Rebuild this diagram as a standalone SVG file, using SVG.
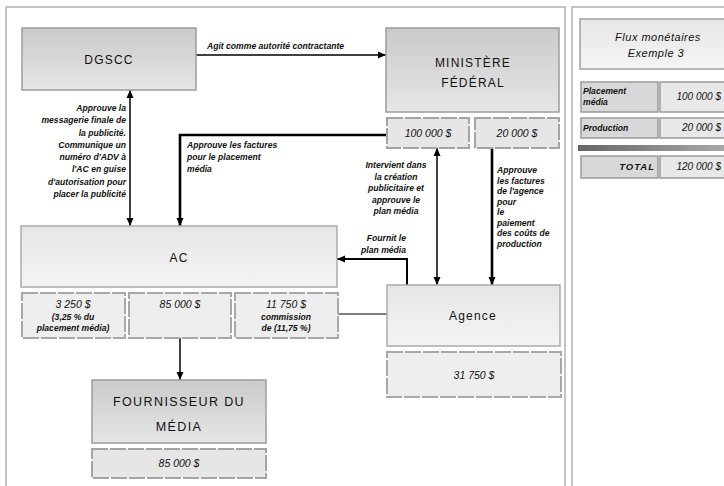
<svg xmlns="http://www.w3.org/2000/svg" width="724" height="486" viewBox="0 0 724 486">
<defs>
<linearGradient id="gDark" x1="0" y1="0" x2="0" y2="1"><stop offset="0" stop-color="#cacaca"/><stop offset="1" stop-color="#e6e6e6"/></linearGradient>
<linearGradient id="gLight" x1="0" y1="0" x2="0" y2="1"><stop offset="0" stop-color="#e6e6e6"/><stop offset="1" stop-color="#f4f4f4"/></linearGradient>
<linearGradient id="gBar" x1="0" y1="0" x2="1" y2="0"><stop offset="0" stop-color="#666"/><stop offset="1" stop-color="#aaa"/></linearGradient>
<marker id="ah" viewBox="0 0 8 8" refX="8" refY="4" markerWidth="8" markerHeight="8" markerUnits="userSpaceOnUse" orient="auto-start-reverse"><path d="M0,0.5 L8,4 L0,7.5 Z" fill="#000"/></marker>
<style>
.frame{fill:none;stroke:#b0b0b0;stroke-width:1.5}
.nd{fill:url(#gDark);stroke:#9c9c9c;stroke-width:1.5}
.nl{fill:url(#gLight);stroke:#aaa;stroke-width:1.5}
.val{fill:#e6e6e6;stroke:#a4a4a4;stroke-width:2;stroke-dasharray:16 2}
.valL{fill:#eeeeee;stroke:#a8a8a8;stroke-width:2;stroke-dasharray:16 2}
.cell{fill:#d8d8d8;stroke:#9a9a9a;stroke-width:1.5}
.cellv{fill:#e8e8e8;stroke:#9a9a9a;stroke-width:1.5}
text{font-family:"Liberation Sans",Arial,sans-serif;fill:#111}
.t{font-size:12px;letter-spacing:1.2px;text-anchor:middle}
.v{font-size:10.5px;font-style:italic;text-anchor:middle}
.s{font-size:8.6px;font-style:italic;font-weight:bold}
.c{stroke:#000;fill:none;stroke-width:1.5}
.thick{stroke-width:2.6}
.rv{font-size:10px;font-style:italic;text-anchor:end}
</style>
</defs>

<rect class="frame" x="6" y="7" width="559" height="495"/>
<rect class="frame" x="572" y="7" width="170" height="495"/>

<g id="connectors">
<path class="c" d="M196,55 H386" marker-end="url(#ah)"/>
<path class="c" d="M130,90 V226" marker-start="url(#ah)" marker-end="url(#ah)"/>
<path class="c thick" d="M386,135 H180 V226" marker-end="url(#ah)"/>
<path class="c" d="M437,148 V285" marker-start="url(#ah)" marker-end="url(#ah)"/>
<path class="c thick" d="M492,148 V285" marker-end="url(#ah)"/>
<path class="c" style="stroke-width:2" d="M407,285 V259 H337" marker-end="url(#ah)"/>
<path class="c" style="stroke-width:1.2" d="M338,314 H387"/>
<path class="c" d="M180,338 V380" marker-end="url(#ah)"/>
<text class="s" x="207" y="49">Agit comme autorité contractante</text>
<g class="s" text-anchor="end">
<text x="126" y="111">Approuve la</text>
<text x="126" y="123">messagerie finale de</text>
<text x="126" y="136">la publicité.</text>
<text x="126" y="148">Communique un</text>
<text x="126" y="160">numéro d'ADV à</text>
<text x="126" y="172">l'AC en guise</text>
<text x="126" y="185">d'autorisation pour</text>
<text x="126" y="197">placer la publicité</text>
</g>
<g class="s">
<text x="187" y="148">Approuve les factures</text>
<text x="187" y="160">pour le placement</text>
<text x="187" y="172">média</text>
</g>
<g class="s" text-anchor="middle">
<text x="396" y="168">Intervient dans</text>
<text x="396" y="180">la création</text>
<text x="396" y="191">publicitaire et</text>
<text x="396" y="203">approuve le</text>
<text x="396" y="214">plan média</text>
</g>
<g class="s">
<text x="497" y="173">Approuve</text>
<text x="497" y="183.5">les factures</text>
<text x="497" y="194">de l'agence</text>
<text x="497" y="204.5">pour</text>
<text x="497" y="215">le</text>
<text x="497" y="225.5">paiement</text>
<text x="497" y="236">des coûts de</text>
<text x="497" y="246.5">production</text>
</g>
<g class="s" text-anchor="end">
<text x="406" y="241">Fournit le</text>
<text x="406" y="253">plan média</text>
</g>
</g>

<g id="dgscc">
<rect class="nd" x="22" y="28" width="174" height="62"/>
<text class="t" x="109" y="64">DGSCC</text>
</g>

<g id="ministere">
<rect class="nd" x="386" y="28" width="173" height="84"/>
<text class="t" x="473" y="67">MINISTÈRE</text>
<text class="t" x="473" y="87">FÉDÉRAL</text>
</g>
<g id="m100000">
<rect class="val" x="387" y="118" width="82" height="30"/>
<text class="v" x="428" y="137">100 000 $</text>
</g>
<g id="m20000">
<rect class="val" x="475" y="118" width="84" height="30"/>
<text class="v" x="517" y="137">20 000 $</text>
</g>

<g id="ac">
<rect class="nl" x="21" y="226" width="316" height="61"/>
<text class="t" x="179" y="262">AC</text>
</g>
<g id="ac3250">
<rect class="valL" x="22" y="293" width="103" height="45"/>
<text class="v" x="73" y="308">3 250 $</text>
<text class="s" x="73" y="320" text-anchor="middle">(3,25 % du</text>
<text class="s" x="73" y="331" text-anchor="middle">placement média)</text>
</g>
<g id="ac85000">
<rect class="valL" x="129" y="293" width="102" height="45"/>
<text class="v" x="180" y="308">85 000 $</text>
</g>
<g id="ac11750">
<rect class="valL" x="235" y="293" width="103" height="45"/>
<text class="v" x="286" y="308">11 750 $</text>
<text class="s" x="286" y="320" text-anchor="middle">commission</text>
<text class="s" x="286" y="331" text-anchor="middle">de (11,75 %)</text>
</g>

<g id="agence">
<rect class="nl" x="387" y="285" width="173" height="61"/>
<text class="t" x="473" y="320">Agence</text>
</g>
<g id="agence31750">
<rect class="valL" x="387" y="352" width="174" height="45"/>
<text class="v" x="474" y="379">31 750 $</text>
</g>

<g id="fournisseur">
<rect class="nd" x="92" y="380" width="174" height="63"/>
<text class="t" x="179" y="406" style="font-size:12.5px;letter-spacing:1.4px">FOURNISSEUR DU</text>
<text class="t" x="179" y="431" style="font-size:12.5px;letter-spacing:1.4px">MÉDIA</text>
</g>
<g id="fournisseur85000">
<rect class="val" x="92" y="449" width="174" height="29"/>
<text class="v" x="179" y="467">85 000 $</text>
</g>

<g id="flux">
<rect x="580" y="19" width="160" height="50" fill="url(#gLight)" stroke="#a0a0a0" stroke-width="1.5"/>
<text x="658" y="41" style="font-size:11px;font-style:italic;text-anchor:middle;letter-spacing:0.5px">Flux monétaires</text>
<text x="656" y="57" style="font-size:11px;font-style:italic;text-anchor:middle;letter-spacing:0.5px">Exemple 3</text>
</g>
<g id="row-placement">
<rect class="cell" x="581" y="82" width="77" height="30"/>
<rect class="cellv" x="660" y="82" width="80" height="30"/>
<text class="s" x="583" y="94">Placement</text>
<text class="s" x="583" y="105">média</text>
<text class="rv" x="721" y="100">100 000 $</text>
</g>
<g id="row-production">
<rect class="cell" x="581" y="118" width="77" height="20"/>
<rect class="cellv" x="660" y="118" width="80" height="20"/>
<text class="s" x="583" y="131">Production</text>
<text class="rv" x="721" y="131">20 000 $</text>
</g>
<rect x="578" y="145" width="150" height="6" fill="url(#gBar)"/>
<g id="row-total">
<rect class="cell" x="581" y="156" width="77" height="22"/>
<rect class="cellv" x="660" y="156" width="80" height="22"/>
<text x="655" y="170" style="font-size:9.5px;font-style:italic;font-weight:bold;text-anchor:end;letter-spacing:1px">TOTAL</text>
<text class="rv" x="721" y="170">120 000 $</text>
</g>
</svg>
